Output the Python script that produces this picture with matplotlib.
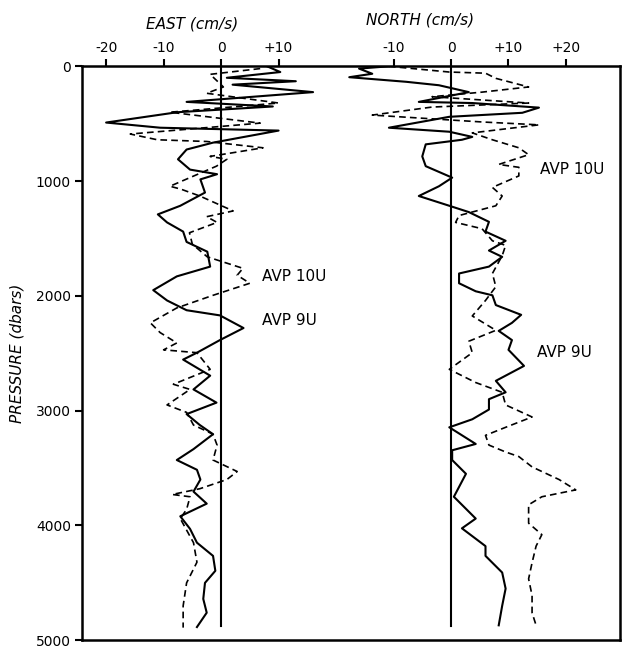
import matplotlib.pyplot as plt

# pressure (dbar) / velocity (cm/s)
east_9u_p = [0, 50, 100, 130, 160, 225, 310, 350, 400, 490, 535, 560, 665, 725, 810, 900, 940, 985,
             1100, 1215, 1290, 1360, 1440, 1530, 1615, 1745, 1830, 1950, 2040, 2125, 2170, 2280,
             2385, 2495, 2555, 2695, 2815, 2930, 3030, 3125, 3205, 3335, 3430, 3515, 3600, 3705,
             3810, 3920, 4030, 4150, 4265, 4395, 4500, 4640, 4760, 4885]
east_9u_u = [8, 10.3, 1, 13, 2, 16, -6, 9, -7.6, -20, -10.6, 10, -1.4, -6, -7.5, -5.4, -0.7, -3.6,
             -2.8, -7.1, -11, -9.4, -6.6, -6, -2.4, -1.9, -7.7, -11.8, -9.4, -6, -0.2, 3.9,
             -0.2, -4.2, -6.6, -1.9, -4.8, -0.8, -6, -3.7, -1.4, -4.8, -7.7, -4.2, -3.6, -4.8,
             -2.5, -7.1, -5.4, -4.2, -1.4, -1, -2.8, -3.1, -2.5, -4.2]

east_10u_p = [20, 70, 180, 235, 320, 400, 495, 590, 640, 655, 710, 785, 810, 870, 1045, 1070,
              1130, 1260, 1310, 1360, 1450, 1550, 1660, 1760, 1820, 1890, 1995, 2105, 2235, 2320,
              2410, 2470, 2495, 2640, 2770, 2815, 2950, 3015, 3125, 3205, 3300, 3430, 3530, 3600,
              3680, 3730, 3750, 3860, 3940, 4150, 4320, 4500, 4700, 4890]
east_10u_u = [6.8, -1.9, 0.4, -2.5, 10, -8.9, 6.8, -15.8, -11.1, -2.5, 7.3, -1.9, 1, -0.8, -8.9, -7,
              -3.7, 2.1, -2.5, -0.7, -5.5, -5, -2.4, 3.8, 2.8, 5, -1.4, -7.7, -12.3, -10.6,
              -7.7, -10, -4.2, -1.9, -8.3, -5.4, -9.4, -6, -4.8, -1.4, -0.7, -1.4, 2.8, 1,
              -3.7, -8.5, -5.4, -6, -7.1, -4.8, -4.2, -6, -6.6, -6.6]

north_9u_p = [0, 20, 65, 95, 135, 165, 225, 310, 320, 360, 405, 440, 535, 570, 615, 640, 680, 785,
              870, 970, 1045, 1130, 1215, 1270, 1355, 1440, 1520, 1605, 1660, 1745, 1805, 1890,
              1960, 1995, 2080, 2165, 2235, 2305, 2385, 2470, 2610, 2740, 2840, 2900, 2990, 3075,
              3145, 3290, 3345, 3430, 3550, 3750, 3940, 4025, 4180, 4265, 4410, 4550, 4700, 4870]
north_9u_v = [-10.8, -16, -13.7, -17.7, -7.8, -2.1, 3.1, -5.6, 3.7, 15.3, 12.4, -0.3, -10.8, -0.3,
              3.7, 1.9, -4.4, -5, -4.4, 0.2, -2.1, -5.6, -0.3, 3.1, 6.6, 6, 9.5, 6.6, 8.9, 6.6,
              1.4, 1.4, 4.3, 7.2, 7.8, 12.2, 10.6, 8.3, 10.6, 10, 12.7, 7.8, 9.5, 6.6, 6.6, 3.7,
              -0.3, 4.3, 0.2, 0.2, 2.6, 0.5, 4.3, 1.9, 6, 6, 8.9, 9.5, 8.9, 8.3]

north_10u_p = [0, 50, 60, 105, 180, 225, 265, 320, 355, 425, 485, 510, 580, 640, 710, 770, 855,
               880, 955, 1055, 1130, 1215, 1300, 1360, 1415, 1520, 1560, 1650, 1805, 1920, 2040,
               2175, 2300, 2395, 2495, 2640, 2755, 2840, 2950, 3055, 3145, 3215, 3300, 3360, 3400,
               3490, 3600, 3690, 3750, 3820, 3980, 4080, 4180, 4325, 4465, 4610, 4760, 4870]
north_10u_v = [-10.8, -0.3, 6, 7.8, 13.5, 5.4, -3.3, 13.5, -3.3, -13.7, 5.4, 15.3, 3.7, 7.2, 11.8,
               13.5, 8.3, 11.8, 11.8, 7.2, 8.9, 7.8, 1.4, 0.8, 5.4, 7.2, 9.5, 8.9, 7.2, 7.8, 6,
               3.7, 7.8, 3.1, 3.7, -0.3, 4.3, 8.9, 9.5, 14.1, 9.5, 6, 6.6, 9.5, 11.8,
               14.1, 18.8, 21.7, 15.8, 13.5, 13.5, 15.8, 14.8, 14.1, 13.5, 14.1, 14.1, 14.8]

NORTH_OFFSET = 40  # north panel drawn 40 cm/s to the right of east

fig = plt.figure(figsize=(6.22, 6.5), dpi=100)
ax = fig.add_axes([0.1318, 0.015, 0.865, 0.883])

ax.plot(east_9u_u, east_9u_p, color='black', lw=1.5)
ax.plot(east_10u_u, east_10u_p, color='black', lw=1.2, ls=(0, (4, 2.5)))
ax.plot([v + NORTH_OFFSET for v in north_9u_v], north_9u_p, color='black', lw=1.5)
ax.plot([v + NORTH_OFFSET for v in north_10u_v], north_10u_p, color='black', lw=1.2, ls=(0, (4, 2.5)))

# zero lines
ax.plot([0, 0], [0, 4880], color='black', lw=1.5)
ax.plot([NORTH_OFFSET, NORTH_OFFSET], [0, 4880], color='black', lw=1.5)

ax.set_xlim(-24.2, 69.4)
ax.set_ylim(5000, 0)
for s in ax.spines.values():
    s.set_linewidth(1.8)

ax.xaxis.tick_top()
ax.set_xticks([-20, -10, 0, 10, 30, 40, 50, 60])
ax.set_xticklabels(['-20', '-10', '0', '+10', '-10', '0', '+10', '+20'])
ax.set_yticks([0, 1000, 2000, 3000, 4000, 5000])
ax.tick_params(axis='both', direction='out', length=5, width=1.5, labelsize=10, pad=3)

ax.text(-5, -370, 'EAST (cm/s)', style='italic', fontsize=11, ha='center', va='center')
ax.text(34.6, -400, 'NORTH (cm/s)', style='italic', fontsize=11, ha='center', va='center')
ax.set_ylabel('PRESSURE (dbars)', style='italic', fontsize=11, labelpad=8)

ax.text(7.1, 1828, 'AVP 10U', fontsize=11, va='center')
ax.text(7.1, 2216, 'AVP 9U', fontsize=11, va='center')
ax.text(55.5, 897, 'AVP 10U', fontsize=11, va='center')
ax.text(55.0, 2493, 'AVP 9U', fontsize=11, va='center')

fig.savefig('out.png', dpi=100)
